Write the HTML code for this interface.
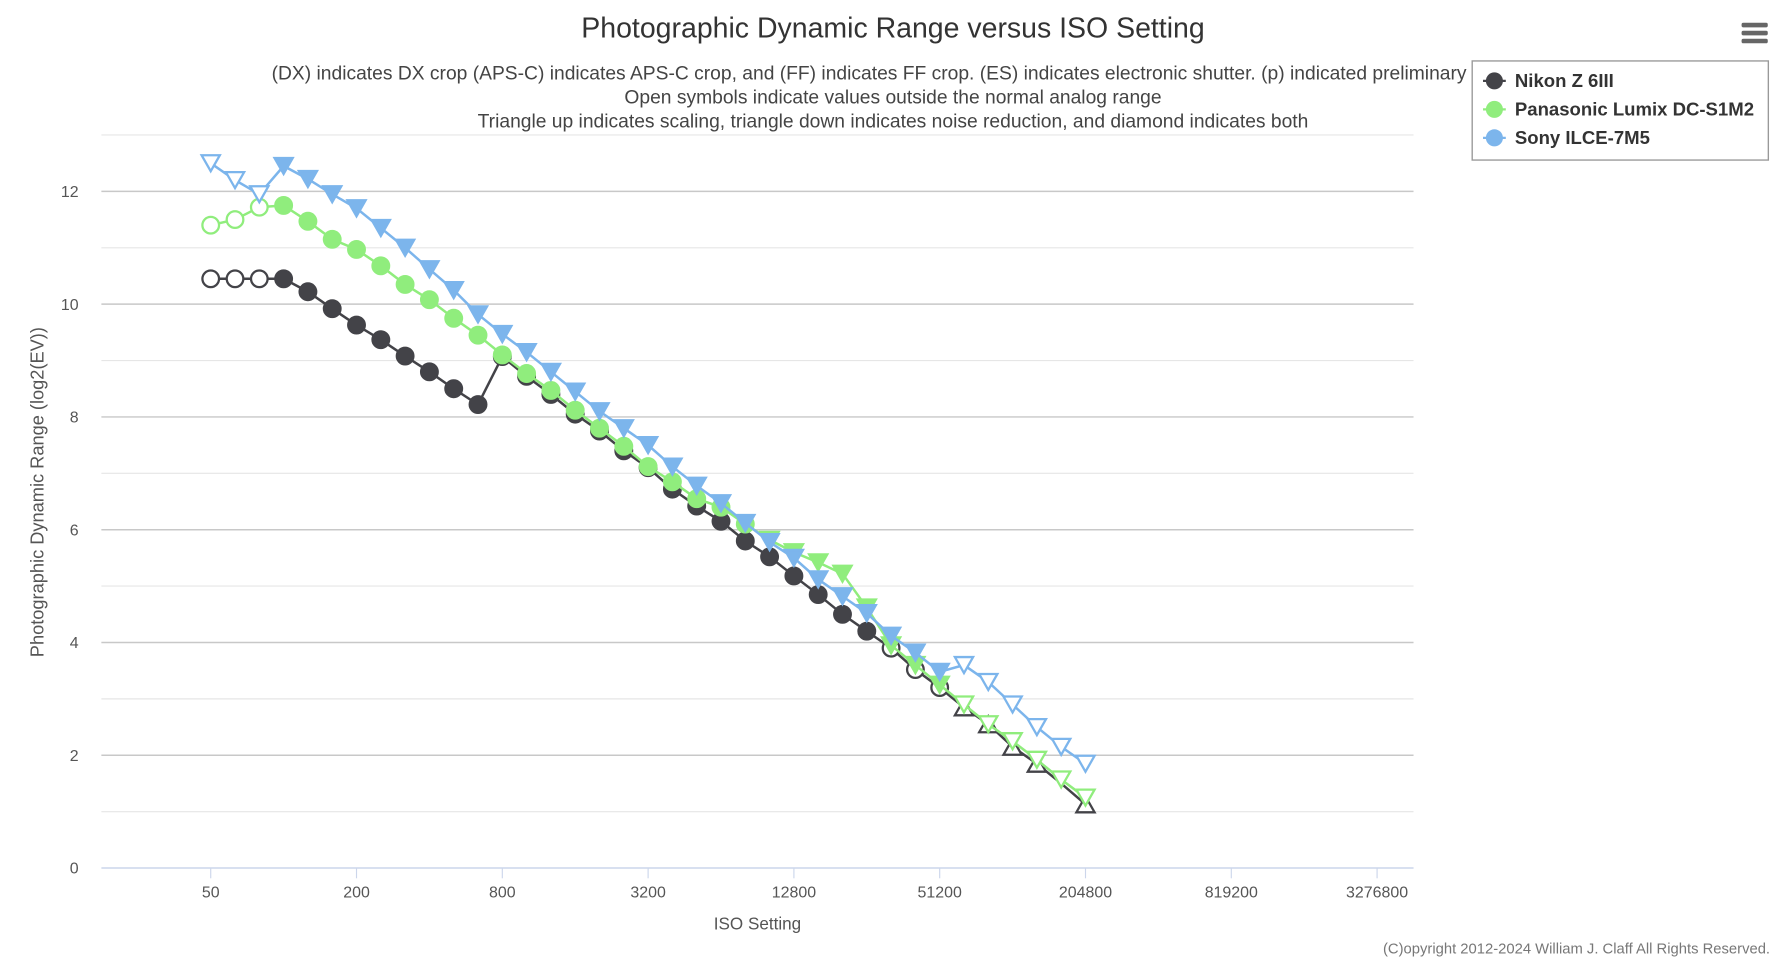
<!DOCTYPE html>
<html><head><meta charset="utf-8"><style>
html,body{margin:0;padding:0;background:#fff;}
svg{display:block;font-family:"Liberation Sans",sans-serif;}
</style></head><body>
<svg id="s" width="1786" height="961" viewBox="0 0 1568 843.6" preserveAspectRatio="none" xmlns="http://www.w3.org/2000/svg">
<text x="784" y="33" text-anchor="middle" font-size="25" fill="#333">Photographic Dynamic Range versus ISO Setting</text>
<text x="763" y="70" text-anchor="middle" font-size="16.9" fill="#444">(DX) indicates DX crop (APS-C) indicates APS-C crop, and (FF) indicates FF crop. (ES) indicates electronic shutter. (p) indicated preliminary</text>
<text x="784" y="91" text-anchor="middle" font-size="16.9" fill="#444">Open symbols indicate values outside the normal analog range</text>
<text x="784" y="112" text-anchor="middle" font-size="16.9" fill="#444">Triangle up indicates scaling, triangle down indicates noise reduction, and diamond indicates both</text>
<g id="grid"></g>
<g font-size="14" fill="#555">
<text x="69" y="173" text-anchor="end">12</text>
<text x="69" y="272" text-anchor="end">10</text>
<text x="69" y="371" text-anchor="end">8</text>
<text x="69" y="470" text-anchor="end">6</text>
<text x="69" y="569" text-anchor="end">4</text>
<text x="69" y="668" text-anchor="end">2</text>
<text x="69" y="767" text-anchor="end">0</text>
</g>
<g font-size="14" fill="#555" text-anchor="middle">
<text x="185" y="788">50</text><text x="313" y="788">200</text><text x="441" y="788">800</text>
<text x="569" y="788">3200</text><text x="697" y="788">12800</text><text x="825" y="788">51200</text>
<text x="953" y="788">204800</text><text x="1081" y="788">819200</text><text x="1209" y="788">3276800</text>
</g>
<text x="665" y="816" text-anchor="middle" font-size="15" fill="#555">ISO Setting</text>
<text transform="translate(38,432) rotate(-90)" text-anchor="middle" font-size="16" fill="#555">Photographic Dynamic Range (log2(EV))</text>
<text x="1554" y="837" text-anchor="end" font-size="13" fill="#777">(C)opyright 2012-2024 William J. Claff All Rights Reserved.</text>
<g fill="#666"><rect x="1529" y="20" width="23" height="4" rx="1.5"/><rect x="1529" y="27" width="23" height="4" rx="1.5"/><rect x="1529" y="34" width="23" height="4" rx="1.5"/></g>
<rect x="1292.5" y="53.5" width="260" height="87" fill="#fff" stroke="#999" stroke-width="1.2"/>
<g font-size="16.3" font-weight="bold" fill="#333">
<line x1="1302" y1="71" x2="1322" y2="71" stroke="#434348" stroke-width="2"/><circle cx="1312" cy="71" r="7.5" fill="#434348"/>
<text x="1330" y="76.5">Nikon Z 6III</text>
<line x1="1302" y1="96" x2="1322" y2="96" stroke="#90ed7d" stroke-width="2"/><circle cx="1312" cy="96" r="7.5" fill="#90ed7d"/>
<text x="1330" y="101.5">Panasonic Lumix DC-S1M2</text>
<line x1="1302" y1="121" x2="1322" y2="121" stroke="#7cb5ec" stroke-width="2"/><circle cx="1312" cy="121" r="7.5" fill="#7cb5ec"/>
<text x="1330" y="126.5">Sony ILCE-7M5</text>
</g>
<g id="series"></g>
</svg>
<script>
var NS="http://www.w3.org/2000/svg";
function el(p,t,a){var e=document.createElementNS(NS,t);for(var k in a)e.setAttribute(k,a[k]);p.appendChild(e);return e;}
var g=document.getElementById("grid");
for(var v=0;v<=13;v++){var y=762-49.5*v;el(g,"line",{x1:89,x2:1241,y1:y,y2:y,stroke:v==0?"#ccd6eb":(v%2?"#e6e6e6":"#c8c8c8"),"stroke-width":v%2?1:1.3});}
for(var i=0;i<9;i++){var x=185+128*i;el(g,"line",{x1:x,x2:x,y1:762,y2:771,stroke:"#ccd6eb"});}
function X(i){return 185+i*21.333;}function Y(v){return 762-49.5*v;}
var S=document.getElementById("series");
var nik=[10.45,10.45,10.45,10.45,10.22,9.92,9.63,9.37,9.08,8.8,8.5,8.22,9.07,8.72,8.4,8.05,7.75,7.4,7.1,6.72,6.42,6.15,5.8,5.52,5.18,4.85,4.5,4.2,3.9,3.52,3.2,2.85,2.55,2.15,1.85,1.5,1.13];
var grn=[11.4,11.5,11.72,11.75,11.47,11.15,10.97,10.68,10.35,10.08,9.75,9.45,9.1,8.77,8.47,8.12,7.8,7.48,7.12,6.85,6.55,6.4,6.1,5.82,5.6,5.42,5.22,4.62,3.95,3.6,3.25,2.9,2.55,2.25,1.92,1.57,1.25];
var blu=[12.5,12.2,11.95,12.45,12.22,11.95,11.7,11.35,11.0,10.62,10.25,9.82,9.47,9.15,8.8,8.45,8.1,7.8,7.5,7.12,6.78,6.47,6.12,5.78,5.5,5.12,4.82,4.52,4.12,3.82,3.48,3.6,3.3,2.9,2.5,2.15,1.85];
function draw(d,c,kind){
 var pts=d.map(function(v,i){return X(i)+","+Y(v);}).join(" ");
 el(S,"polyline",{points:pts,fill:"none",stroke:c,"stroke-width":2.2});
 d.forEach(function(v,i){var k=kind(i);if(!k)return;var x=X(i),y=Y(v);
  var fill=k.open?"#fff":c;
  if(k.t=="c")el(S,"circle",{cx:x,cy:y,r:7.3,fill:fill,stroke:c,"stroke-width":2});
  else if(k.t=="d")el(S,"path",{d:"M"+(x-8)+","+(y-7)+"h16l-8,14z",fill:fill,stroke:c,"stroke-width":2});
  else el(S,"path",{d:"M"+(x-8)+","+(y+7)+"h16l-8,-14z",fill:fill,stroke:c,"stroke-width":2});
 });
}
draw(nik,"#434348",function(i){if(i<3)return{t:"c",open:1};if(i==35)return null;if(i>=31)return{t:"u",open:1};if(i==28||i==29||i==30)return{t:"c",open:1};return{t:"c"};});
draw(grn,"#90ed7d",function(i){if(i<3)return{t:"c",open:1};if(i<=22)return{t:"c"};if(i<=30)return{t:"d"};return{t:"d",open:1};});
draw(blu,"#7cb5ec",function(i){if(i<3)return{t:"d",open:1};if(i>=31)return{t:"d",open:1};return{t:"d"};});
</script>
</body></html>
